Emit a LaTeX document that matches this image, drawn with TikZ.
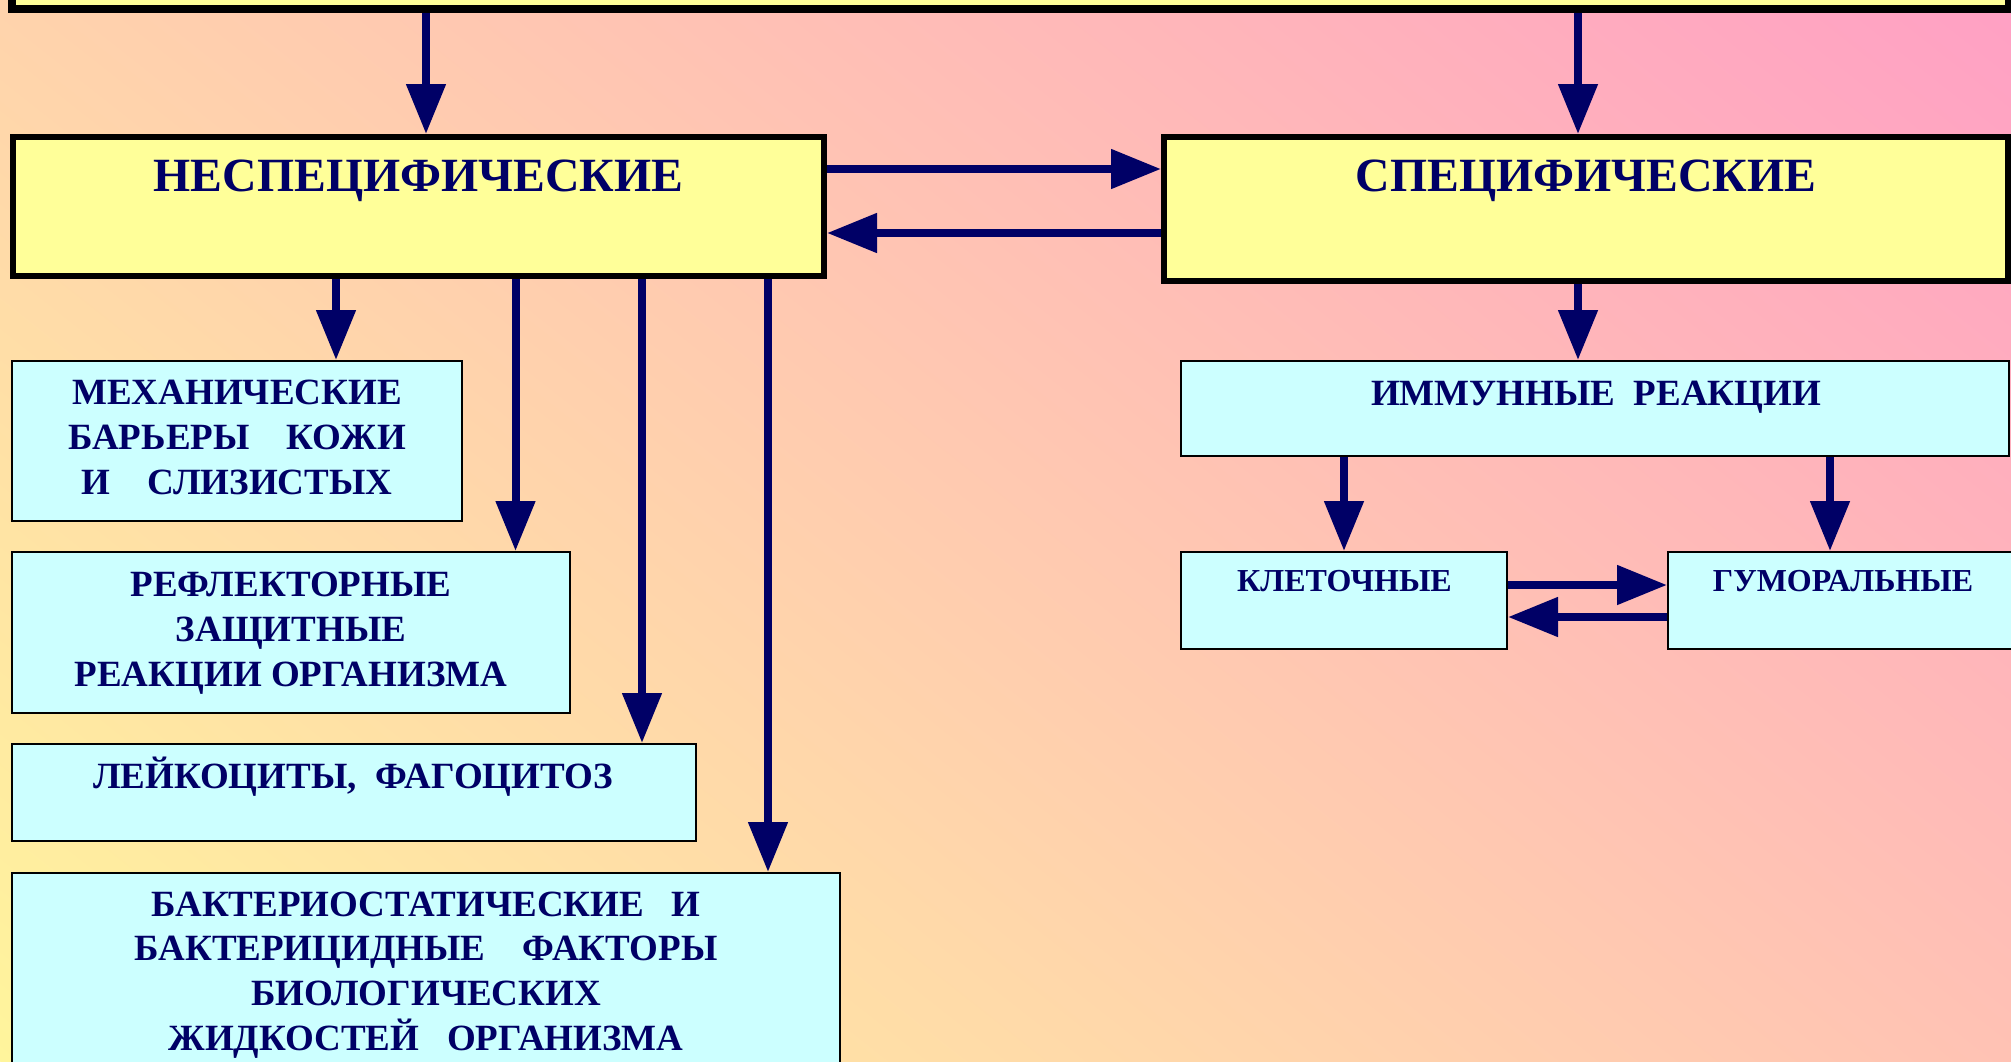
\documentclass[tikz,border=0pt]{standalone}
\usepackage{fontspec}
\setmainfont{Liberation Serif}
\usetikzlibrary{arrows.meta}
\definecolor{navy}{HTML}{000066}
\definecolor{boxY}{HTML}{FFFF99}
\definecolor{boxC}{HTML}{CCFFFF}
\definecolor{bgY}{RGB}{255,245,156}
\definecolor{bgP}{RGB}{255,160,196}
\pgfdeclarehorizontalshading{bgshade}{3000bp}{color(0bp)=(bgY); color(2072bp)=(bgP)}
\tikzset{
  bigbox/.style={draw=black, line width=6pt, fill=boxY, inner sep=0pt, rectangle},
  topframe/.style={draw=black, line width=8pt, fill=boxY, inner sep=0pt, rectangle},
  smallbox/.style={draw=black, line width=2pt, fill=boxC, inner sep=0pt, rectangle},
  hdr/.style={text=navy, inner sep=0pt, font=\fontsize{47.7}{57}\selectfont\bfseries},
  lbl/.style={text=navy, inner sep=0pt, align=center, font=\fontsize{37}{44.6}\selectfont\bfseries},
  slbl/.style={text=navy, inner sep=0pt, font=\fontsize{32}{38}\selectfont\bfseries},
  arr/.style={draw=navy, line width=8pt, -{Triangle[length=50pt,width=38pt]}}
}
\begin{document}
\begin{tikzpicture}[x=1pt,y=-1pt]
\useasboundingbox (0,0) rectangle (2011,1061);
\begin{scope}
\clip (0,0) rectangle (2011,1061);
\node[inner sep=0pt, rotate=51.7] (bg) at (1005.5,530.5) {\pgfuseshading{bgshade}};

% boxes
\node[topframe, minimum width=1997pt, minimum height=109pt] (top) at (1010.5,-45.5) {};
\node[bigbox, minimum width=811pt, minimum height=139pt] (nesp) at (418.5,206.5) {};
\node[bigbox, minimum width=844pt, minimum height=143.5pt] (spec) at (1586,208.75) {};
\node[smallbox, minimum width=828pt, minimum height=95pt] (imm) at (1595,408.5) {};
\node[smallbox, minimum width=326pt, minimum height=97pt] (klet) at (1344,600.5) {};
\node[smallbox, minimum width=350pt, minimum height=97pt] (gum) at (1843,600.5) {};
\node[smallbox, minimum width=450.5pt, minimum height=160pt] (mech) at (236.75,441) {};
\node[smallbox, minimum width=558.5pt, minimum height=160.5pt] (refl) at (290.75,632.25) {};
\node[smallbox, minimum width=684.5pt, minimum height=96.5pt] (leik) at (353.75,792.25) {};
\node[smallbox, minimum width=828.5pt, minimum height=227pt] (bakt) at (425.75,986.5) {};

% texts (multi-line nodes: base anchor = last line)
\node[hdr, anchor=base] (nesp-t) at (418.5,191) {НЕСПЕЦИФИЧЕСКИЕ};
\node[hdr, anchor=base] (spec-t) at (1586,191) {СПЕЦИФИЧЕСКИЕ};
\node[lbl, anchor=base] (imm-t) at (1596,405) {ИММУННЫЕ\ \ РЕАКЦИИ};
\node[slbl, anchor=base] (klet-t) at (1344.5,591.5) {КЛЕТОЧНЫЕ};
\node[slbl, anchor=base] (gum-t) at (1843,591.5) {ГУМОРАЛЬНЫЕ};
\node[lbl, anchor=base] (mech-t) at (237,494) {МЕХАНИЧЕСКИЕ\\БАРЬЕРЫ\ \ \ \ КОЖИ\\И\ \ \ \ СЛИЗИСТЫХ};
\node[lbl, anchor=base] (refl-t) at (291,686) {РЕФЛЕКТОРНЫЕ\\ЗАЩИТНЫЕ\\РЕАКЦИИ ОРГАНИЗМА};
\node[lbl, anchor=base] (leik-t) at (353,788) {ЛЕЙКОЦИТЫ,\ \ ФАГОЦИТОЗ};
\node[lbl, anchor=base] (bakt-t) at (426,1050) {БАКТЕРИОСТАТИЧЕСКИЕ\ \ \ И\\БАКТЕРИЦИДНЫЕ\ \ \ \ ФАКТОРЫ\\БИОЛОГИЧЕСКИХ\\ЖИДКОСТЕЙ\ \ \ ОРГАНИЗМА};

% connectors
\draw[arr] (426,0 |- top.south) -- (426,0 |- nesp.north);
\draw[arr] (1578,0 |- top.south) -- (1578,0 |- spec.north);
\draw[arr] (nesp.east |- 0,169) -- (spec.west |- 0,169);
\draw[arr] (spec.west |- 0,233) -- (nesp.east |- 0,233);
\draw[arr] (1578,0 |- spec.south) -- (1578,0 |- imm.north);
\draw[arr] (336,0 |- nesp.south) -- (336,0 |- mech.north);
\draw[arr] (515.5,0 |- nesp.south) -- (515.5,0 |- refl.north);
\draw[arr] (642,0 |- nesp.south) -- (642,0 |- leik.north);
\draw[arr] (768,0 |- nesp.south) -- (768,0 |- bakt.north);
\draw[arr] (1344,0 |- imm.south) -- (1344,0 |- klet.north);
\draw[arr] (1830,0 |- imm.south) -- (1830,0 |- gum.north);
\draw[arr] (klet.east |- 0,585) -- (gum.west |- 0,585);
\draw[arr] (gum.west |- 0,617) -- (klet.east |- 0,617);
\end{scope}
\end{tikzpicture}
\end{document}
